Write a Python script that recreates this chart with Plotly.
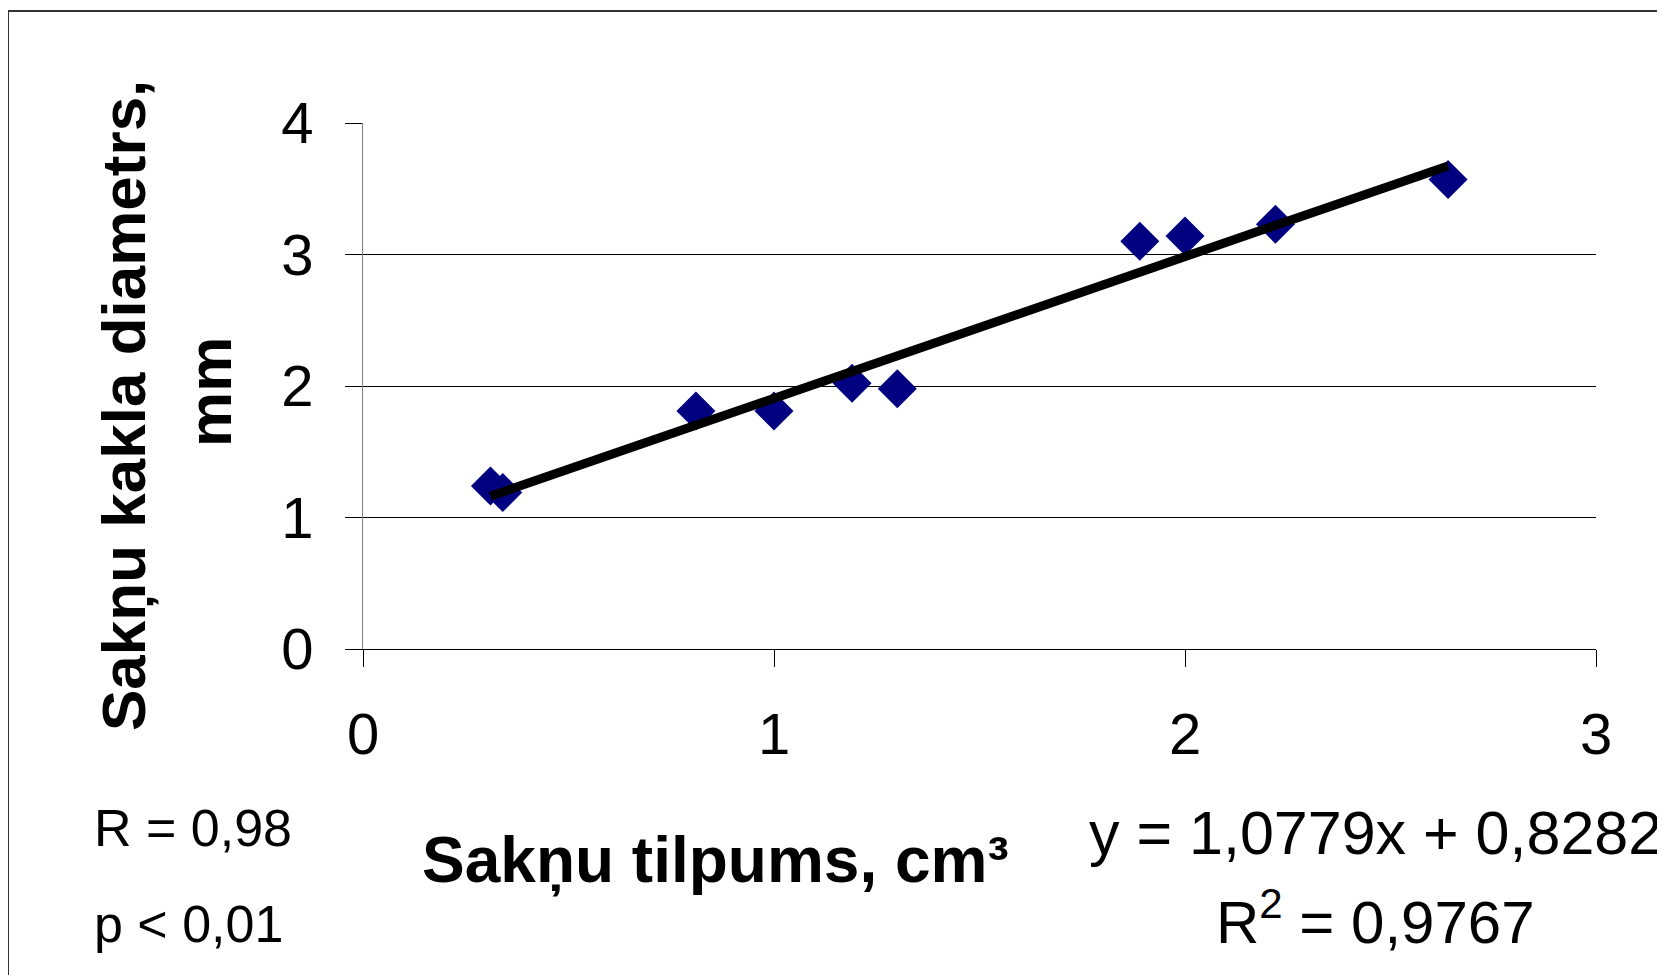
import plotly.graph_objects as go

# ---- data ----
root_volume = [0.31, 0.34, 0.81, 1.00, 1.19, 1.30, 1.89, 2.00, 2.22, 2.64]
collar_diam = [1.24, 1.19, 1.81, 1.81, 2.02, 1.98, 3.10, 3.14, 3.23, 3.57]
trend_coef = [1.0779, 0.8282]   # slope, intercept
x_ticks = [0, 1, 2, 3]
y_ticks = [0, 1, 2, 3, 4]

OFF = 8                      # default page body margin
W, H = 1665 - OFF, 975 - OFF
L, R, T, B = 363 - OFF, 1596 - OFF, 123 - OFF, 649 - OFF


def px(x):
    """page x pixel -> paper fraction"""
    return (x - OFF - L) / (R - L)


def py(y):
    """page y pixel -> paper fraction"""
    return (B - (y - OFF)) / (B - T)


FONT = "Arial, Liberation Sans, sans-serif"

xs = [min(root_volume), max(root_volume)]
trend_y = [trend_coef[0] * v + trend_coef[1] for v in xs]

fig = go.Figure()
fig.add_trace(go.Scatter(
    x=root_volume, y=collar_diam, mode="markers",
    marker=dict(symbol="diamond", size=30, color="#000080", line=dict(width=0)),
    showlegend=False, hoverinfo="skip"))
fig.add_trace(go.Scatter(
    x=xs, y=trend_y, mode="lines",
    line=dict(color="black", width=9),
    showlegend=False, hoverinfo="skip"))

fig.update_layout(
    width=W, height=H,
    margin=dict(l=L, r=W - R, t=T, b=H - B, pad=0),
    paper_bgcolor="white", plot_bgcolor="white",
    font=dict(family=FONT, color="black"),
    xaxis=dict(range=[0, 3], tickvals=x_ticks, ticktext=[str(v) for v in x_ticks],
               showgrid=False, zeroline=False, showline=True, linecolor="black", linewidth=1,
               ticks="outside", ticklen=17, tickcolor="black", tickwidth=1,
               tickfont=dict(size=58, family=FONT), ticklabelstandoff=17),
    yaxis=dict(range=[0, 4], tickvals=y_ticks, ticktext=[str(v) for v in y_ticks],
               showgrid=True, gridcolor="black", gridwidth=1, zeroline=False,
               showline=True, linecolor="#808080", linewidth=1,
               ticks="outside", ticklen=17, tickcolor="black", tickwidth=1,
               tickfont=dict(size=58, family=FONT), ticklabelstandoff=20),
)

shapes = [
    dict(type="rect", xref="paper", yref="paper",
         x0=px(8), x1=px(1700), y0=py(1000), y1=py(11),
         line=dict(color="#333333", width=2), fillcolor="rgba(0,0,0,0)", layer="above"),
    dict(type="rect", xref="paper", yref="paper",
         x0=px(88), x1=px(187), y0=py(8), y1=py(0),
         line=dict(width=0), fillcolor="#f4f6de", layer="below"),
    dict(type="rect", xref="paper", yref="paper",
         x0=px(217), x1=px(382), y0=py(8), y1=py(0),
         line=dict(width=0), fillcolor="#f4f6de", layer="below"),
]
fig.update_layout(shapes=shapes)

ann = []
ann.append(dict(text="<b>Sakņu kakla diametrs,</b>", x=px(124), y=py(406), textangle=-90,
                font=dict(size=62, family=FONT)))
ann.append(dict(text="<b>mm</b>", x=px(209), y=py(392), textangle=-90,
                font=dict(size=62, family=FONT)))
ann.append(dict(text="<b>Sakņu tilpums, cm³</b>", x=px(715), y=py(860),
                font=dict(size=64, family=FONT)))
ann.append(dict(text="R = 0,98", x=px(92), y=py(828), xanchor="left",
                font=dict(size=52, family=FONT)))
ann.append(dict(text="p &lt; 0,01", x=px(92), y=py(924), xanchor="left",
                font=dict(size=52, family=FONT)))
ann.append(dict(text="y = 1,0779x + 0,8282", x=px(1375), y=py(833),
                font=dict(size=61, family=FONT)))
ann.append(dict(text="R<sup>2</sup> = 0,9767", x=px(1375), y=py(918),
                font=dict(size=60, family=FONT)))
for a in ann:
    a.update(xref="paper", yref="paper", showarrow=False)
    a.setdefault("xanchor", "center")
    a.setdefault("yanchor", "middle")
fig.update_layout(annotations=ann)

fig.write_html("out.html")
